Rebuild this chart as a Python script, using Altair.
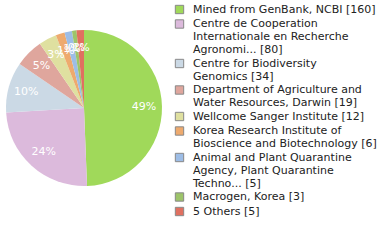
import altair as alt
import pandas as pd

labels = [
    "Mined from GenBank, NCBI [160]",
    "Centre de Cooperation|Internationale en Recherche|Agronomi... [80]",
    "Centre for Biodiversity|Genomics [34]",
    "Department of Agriculture and|Water Resources, Darwin [19]",
    "Wellcome Sanger Institute [12]",
    "Korea Research Institute of|Bioscience and Biotechnology [6]",
    "Animal and Plant Quarantine|Agency, Plant Quarantine|Techno... [5]",
    "Macrogen, Korea [3]",
    "5 Others [5]",
]
counts = [160, 80, 34, 19, 12, 6, 5, 3, 5]
colors = ["#a0d95a", "#dcbadc", "#cbd9e5", "#dfa69d", "#dfe0a0",
          "#eeaa6e", "#9dbde6", "#9dc46a", "#e07060"]

df = pd.DataFrame({"label": labels, "count": counts, "idx": list(range(len(labels)))})

base = alt.Chart(df).transform_joinaggregate(
    total="sum(count)"
).transform_calculate(
    pct="floor(datum.count / datum.total * 100) + '%'"
)

pie = base.mark_arc(outerRadius=78, stroke=None).encode(
    theta=alt.Theta("count:Q", stack=True),
    order=alt.Order("idx:Q"),
    color=alt.Color(
        "label:N",
        scale=alt.Scale(domain=labels, range=colors),
        legend=alt.Legend(
            title=None,
            orient="none",
            legendX=174,
            legendY=4,
            labelExpr="split(datum.label, '|')",
            labelFont="DejaVu Sans",
            labelFontSize=11,
            labelColor="#222222",
            labelLimit=300,
            labelOffset=8,
            labelBaseline="middle",
            symbolType="square",
            symbolSize=70,
            symbolStrokeColor="#888888",
            symbolStrokeWidth=1,
            symbolOpacity=1,
            rowPadding=1.5,
        ),
    ),
    x=alt.value(84),
    y=alt.value(108),
)

text = base.mark_text(
    radius=60, color="white", font="DejaVu Sans", fontSize=11
).encode(
    theta=alt.Theta("count:Q", stack=True),
    order=alt.Order("idx:Q"),
    text="pct:N",
    x=alt.value(84),
    y=alt.value(108),
)

chart = alt.layer(pie, text).properties(
    width=380, height=240, autosize="none", padding=0
).configure_view(stroke=None)

chart.save("out.html", embed_options={"renderer": "svg", "actions": False})
